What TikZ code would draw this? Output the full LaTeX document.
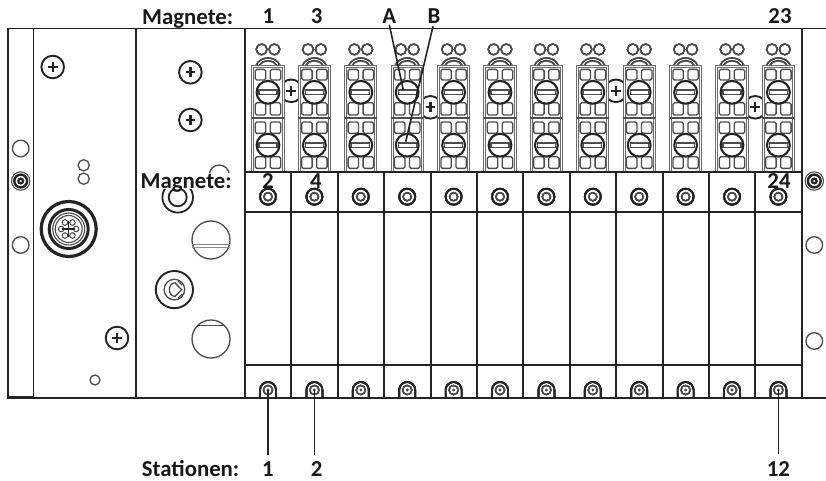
\documentclass[tikz,border=0pt]{standalone}
\usepackage{fontspec}
\setmainfont{Carlito}
\definecolor{ink}{gray}{0.14}
\definecolor{mid}{gray}{0.3}
\definecolor{pale}{gray}{0.55}
\definecolor{valvegray}{gray}{0.42}
\tikzset{
  frameline/.style={draw=ink,line width=1.5pt},
  divider/.style={draw=ink,line width=2.1pt},
  softline/.style={draw=mid,line width=1.3pt},
  leader/.style={draw=ink,line width=1.6pt},
  lab/.style={font=\bfseries\fontsize{22.8}{24}\selectfont,text=black!90,inner sep=0pt,anchor=base},
  capt/.style={font=\bfseries\fontsize{22.8}{24}\selectfont,text=black!90,inner sep=0pt,anchor=base west},
  sq/.style={softline,rounded corners=1.5pt,fill=white},
}
\newcommand{\plusscrew}[3]{% x,y,r
  \draw[draw=ink,line width=1.9pt,fill=white] (#1,#2) circle (#3);
  \draw[draw=ink,line width=2.4pt] ({#1-4.8},#2) -- ({#1+4.8},#2) (#1,{#2-4.8}) -- (#1,{#2+4.8});
}
\begin{document}
\begin{tikzpicture}[x=1pt,y=-1pt]
\useasboundingbox (0,0) rectangle (826,481);
\fill[white] (0,0) rectangle (826,481);
% frame
\draw[frameline] (826,28.4) -- (8,28.4) -- (8,398.2) -- (826,398.2);
\draw[line width=2.6pt,draw=ink] (8,397.4) -- (33.5,397.4);
\draw[frameline] (33.5,28.4) -- (33.5,398.2);
\draw[frameline] (136,28.4) -- (136,398.2);
% left strip
\draw[softline] (20.7,148.5) circle (8.3);
\draw[softline] (20.7,245) circle (8.3);
\draw[draw=mid,line width=1.1pt] (20.7,181) circle (9.2);
\draw[draw=ink,line width=2.4pt] (20.7,181) circle (6.4);
\draw[draw=ink,line width=2.2pt] (20.7,181) circle (2.4);
% module one
\plusscrew{52.7}{67}{11.3}
\plusscrew{117}{338}{11.3}
\draw[softline] (83.7,165.3) circle (5.6);
\draw[softline] (83.7,178.7) circle (5.6);
\draw[softline] (95,380) circle (5);
% round connector
\draw[draw=ink,line width=3.2pt] (68.7,229) circle (27.5);
\draw[draw=ink,line width=3pt] (68.7,229) circle (19.5);
\draw[draw=mid,line width=1.1pt] (68.7,229) circle (16);
\draw[draw=mid,line width=1.1pt] (68.7,229) circle (13.5);
\foreach \a/\d in {0/7.5,60/7.5,120/7.5,180/7.5,240/7.5,300/7.5}
  \draw[draw=mid,line width=1pt] (68.7,229) ++(\a:\d) circle (2.8);
\draw[draw=ink,line width=1.5pt] (68.7,221) -- (68.7,237) (62,229) -- (75,229);
% module two
\plusscrew{190.4}{72.3}{11.3}
\plusscrew{190.4}{120}{11.3}
\draw[softline] (219.3,175) circle (10);
\draw[draw=ink,line width=1.8pt] (177.7,197.3) circle (15.3);
\draw[draw=ink,line width=1.8pt] (177.7,197.3) circle (9);
\fill[white] (139,172.5) rectangle (234,189);
% large bores
\draw[softline] (211,240) circle (19);
\draw[draw=pale,line width=1pt] (192.4,244.8) -- (229.6,244.8);
\draw[draw=pale,line width=1pt] (192.2,247.4) -- (229.8,247.4);
\draw[softline] (211,339) circle (19);
\draw[softline] (197.4,325.7) -- (224.6,325.7);
% ring with lobes
\draw[draw=ink,line width=1.9pt] (174.4,289.6) circle (18.6);
\draw[softline] (174.4,289.6) circle (10.3);
\draw[softline] (175,282.8) .. controls (167.5,282.8) and (167.5,296.4) .. (175,296.4) -- (181.6,289.6) -- cycle;
\draw[softline] (178,281) -- (182,285) (178,298.2) -- (182,294.2);
% plus screws behind the valves
\foreach \xa/\ya in {291.2/90.8,430.4/107.3,616/90.8,755.2/107.3}
  \plusscrew{\xa}{\ya}{11.3}
% valves and stations
\foreach \i in {0,...,11}{
  \begin{scope}[shift={({268+46.4*\i},0)}]
    \draw[softline] (-6.4,49.4) circle (5.4);
    \draw[softline] (6.4,49.4) circle (5.4);
    \draw[softline] (-12,65.5) .. controls (-8,55.5) and (8,55.5) .. (12,65.5);
    \draw[softline] (-8.5,65.5) .. controls (-5,59) and (5,59) .. (8.5,65.5);
    \draw[draw=valvegray,line width=1pt,fill=white] (-16.1,65.7) rectangle (16.1,171.7);
    \draw[draw=valvegray,line width=0.9pt] (-14.1,67.6) rectangle (14.1,171.7);
    \draw[draw=mid,line width=1.9pt] (-16,118.3) -- (16,118.3);
    \foreach \s in {-1,1}{
      \draw[sq] ({\s*7.5-5.2},69.4) rectangle ({\s*7.5+5.2},80);
      \draw[sq] ({\s*7.5-5.2},102.8) rectangle ({\s*7.5+5.2},115);
      \draw[sq] ({\s*7.5-5.2},122) rectangle ({\s*7.5+5.2},133.4);
      \draw[sq] ({\s*7.5-5.2},156.8) rectangle ({\s*7.5+5.2},168.4);
    }
    \foreach \yy in {92.3,145.2}{
      \draw[draw=ink,line width=2.1pt,fill=white] (0,\yy) circle (11.4);
      \draw[softline,fill=white] (-9,{\yy-2.3}) rectangle (9,{\yy+2.3});
    }
    % upper screw
    \draw[draw=ink,line width=1.8pt] (0,196.7) circle (8);
    \draw[softline] (0,196.7) circle (4.1);
    % lower screw
    \draw[draw=ink,line width=1.7pt] (-8,398) -- (-8,390) arc[start angle=180,end angle=360,radius=8] -- (8,398);
    \draw[softline] (0,390) circle (4.6);
    \fill[mid] (0,390) circle (1.3);
  \end{scope}
}
% station dividers
\foreach \i in {0,...,11}
  \draw[divider] ({245+46.4*\i},172) -- ({245+46.4*\i},398.2);
\draw[divider] (245,28.4) -- (245,172);
\draw[frameline] (801.8,28.4) -- (801.8,398.2);
\draw[frameline] (245,171.8) -- (801.8,171.8);
\draw[frameline] (245,211.8) -- (801.8,211.8);
\draw[frameline] (245,365) -- (801.8,365);
% right strip
\draw[softline] (814.3,245) circle (8.3);
\draw[softline] (814.3,341) circle (8.3);
\draw[draw=mid,line width=1.1pt] (814.3,181) circle (9.2);
\draw[draw=ink,line width=2.4pt] (814.3,181) circle (6.4);
\draw[draw=ink,line width=2.2pt] (814.3,181) circle (2.4);
% labels
\node[capt] (topcap) at (142,25) {Magnete:};
\node[lab] (m1) at (268.3,24) {1};
\node[lab] (m3) at (316.7,24) {3};
\node[lab] (m23) at (780,24) {23};
\node[lab] (labA) at (389.3,24) {A};
\node[lab] (labB) at (434,24) {B};
\node[capt] (midcap) at (140.5,188) {Magnete:};
\node[lab] (m2) at (268,188) {2};
\node[lab] (m4) at (316,188) {4};
\node[lab] (m24) at (779,188) {24};
\node[capt] (botcap) at (141.7,476.7) {Stationen:};
\node[lab] (st1) at (268,476.7) {1};
\node[lab] (st2) at (316.7,476.7) {2};
\node[lab] (st12) at (778.3,476.7) {12};
% leaders
\coordinate (valveA) at (403.3,90);
\coordinate (valveB) at (405.7,141.7);
\coordinate (scr1) at (268,390);
\coordinate (scr2) at (314.4,390);
\coordinate (scr12) at (778.4,390);
\draw[leader] (labA.south) ++(0,0.5) -- (valveA);
\draw[leader] (labB.south) ++(-1,2) -- (valveB);
\draw[leader] (scr1) -- (268,455);
\draw[leader] (scr2) -- (314.4,455);
\draw[leader] (scr12) -- (778.4,453.5);
\end{tikzpicture}
\end{document}
